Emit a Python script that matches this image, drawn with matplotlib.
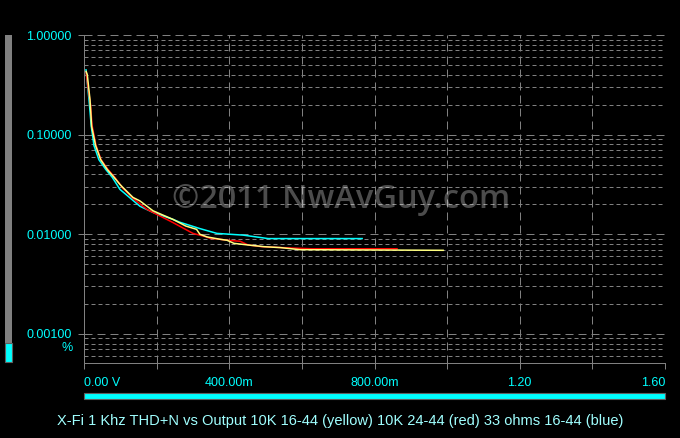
import matplotlib
matplotlib.use("Agg")
import matplotlib.pyplot as plt
from matplotlib.patches import Rectangle
from matplotlib.ticker import FixedLocator, LogLocator, FixedFormatter, FuncFormatter

# THD+N (%) vs output voltage (V)
yellow_v = [0.006, 0.009, 0.0165, 0.021, 0.032, 0.046, 0.064, 0.083, 0.099, 0.107,
            0.135, 0.154, 0.190, 0.245, 0.280, 0.310, 0.319, 0.339, 0.375, 0.394,
            0.413, 0.452, 0.496, 0.540, 0.595, 0.989]
yellow_thd = [0.43, 0.40, 0.224, 0.121, 0.0776, 0.056, 0.0447, 0.0372, 0.0316, 0.0295,
              0.0234, 0.0216, 0.0172, 0.0141, 0.0121, 0.0112, 0.0100, 0.0094, 0.0089, 0.0087,
              0.0081, 0.0078, 0.0075, 0.00735, 0.0070, 0.00690]

red_v = [0.006, 0.011, 0.018, 0.022, 0.033, 0.047, 0.066, 0.085, 0.107, 0.135,
         0.173, 0.245, 0.300, 0.333, 0.347, 0.375, 0.394, 0.430, 0.452, 0.490,
         0.543, 0.625, 0.862]
red_thd = [0.42, 0.30, 0.20, 0.125, 0.078, 0.056, 0.0447, 0.0372, 0.029, 0.0229,
           0.0178, 0.0131, 0.0102, 0.0095, 0.0091, 0.0089, 0.0087, 0.0085, 0.0078, 0.0075,
           0.00735, 0.00715, 0.00715]

blue_v = [0.0055, 0.0138, 0.020, 0.0275, 0.041, 0.060, 0.078, 0.099, 0.154, 0.191,
          0.245, 0.264, 0.319, 0.366, 0.438, 0.507, 0.766]
blue_thd = [0.447, 0.224, 0.121, 0.0776, 0.056, 0.0447, 0.0372, 0.0282, 0.0191, 0.0165,
            0.0141, 0.0132, 0.0114, 0.0102, 0.0098, 0.00905, 0.00905]

x_ticks = [0.0, 0.2, 0.4, 0.6, 0.8, 1.0, 1.2, 1.4, 1.6]
x_labels = ["0.00 V", "", "400.00m", "", "800.00m", "", "1.20", "", "1.60"]

title = "X-Fi 1 Khz THD+N vs Output 10K 16-44 (yellow) 10K 24-44 (red) 33 ohms 16-44 (blue)"

W, H = 680, 438
CYAN = "#00ffff"
GRID = "#808080"
plt.rcParams["font.family"] = ["Liberation Sans", "DejaVu Sans"]

fig = plt.figure(figsize=(W / 100, H / 100), dpi=100, facecolor="black")
ax = fig.add_axes([84 / W, 75 / H, 581 / W, 328 / H], facecolor="black")

ax.plot(blue_v, blue_thd, color="#00ffff", lw=1.1, zorder=3)
ax.plot(red_v, red_thd, color="#ff0000", lw=1.1, zorder=4)
ax.plot(yellow_v, yellow_thd, color="#ffff80", lw=1.1, zorder=5)

ax.set_yscale("log")
ax.set_xlim(0, 1.6)
ax.set_ylim(0.00051, 1.0)

ax.xaxis.set_major_locator(FixedLocator(x_ticks))
ax.xaxis.set_major_formatter(FixedFormatter(x_labels))
ax.yaxis.set_major_locator(LogLocator(base=10))
ax.yaxis.set_minor_locator(LogLocator(base=10, subs=range(2, 10)))
ax.yaxis.set_major_formatter(FuncFormatter(lambda v, p: "%.5f" % v))
ax.yaxis.set_minor_formatter(FuncFormatter(lambda v, p: ""))

ax.tick_params(axis="both", which="major", colors=GRID, labelcolor=CYAN,
               labelsize=9, length=4, width=0.72)
ax.tick_params(axis="y", which="major", pad=5)
ax.tick_params(axis="x", which="major", pad=6)
ax.tick_params(axis="y", which="minor", length=0)

ax.grid(True, axis="x", which="major", color=GRID, lw=0.72, ls=(0, (8, 5)))
ax.grid(True, axis="y", which="major", color=GRID, lw=0.72, ls=(0, (8, 5)))
ax.grid(True, axis="y", which="minor", color=GRID, lw=0.72, ls=(0, (4, 3)))
ax.set_axisbelow(True)

for s in ["top", "right"]:
    ax.spines[s].set_visible(False)
for s in ["left", "bottom"]:
    ax.spines[s].set_color(GRID)
    ax.spines[s].set_linewidth(0.72)

fig.canvas.draw()
xl = ax.get_xticklabels()
xl[0].set_horizontalalignment("left")
xl[-1].set_horizontalalignment("right")

fig.text(73 / W, 1 - 348 / H, "%", color=CYAN, fontsize=9, ha="right", va="center")

# watermark
fig.text(341 / W, 1 - 200 / H, "\u00a92011 NwAvGuy.com", color="white", alpha=0.3,
         fontsize=23.5, family="Open Sans", weight="semibold",
         ha="center", va="center", zorder=10)

# title
fig.text(340 / W, 1 - 421 / H, title, color="#a0ffff", fontsize=10.5,
         ha="center", va="center")

# scroll bars
fig.add_artist(Rectangle((5 / W, 95 / H), 7 / W, 308 / H, transform=fig.transFigure,
                         facecolor="#808080", edgecolor="none"))
fig.add_artist(Rectangle((5 / W, 76 / H), 7 / W, 19 / H, transform=fig.transFigure,
                         facecolor=CYAN, edgecolor="#606060", lw=0.8))
fig.add_artist(Rectangle((84 / W, 39 / H), 581 / W, 6 / H, transform=fig.transFigure,
                         facecolor=CYAN, edgecolor="#606060", lw=0.8))

fig.savefig("out.png", dpi=100, facecolor="black")
